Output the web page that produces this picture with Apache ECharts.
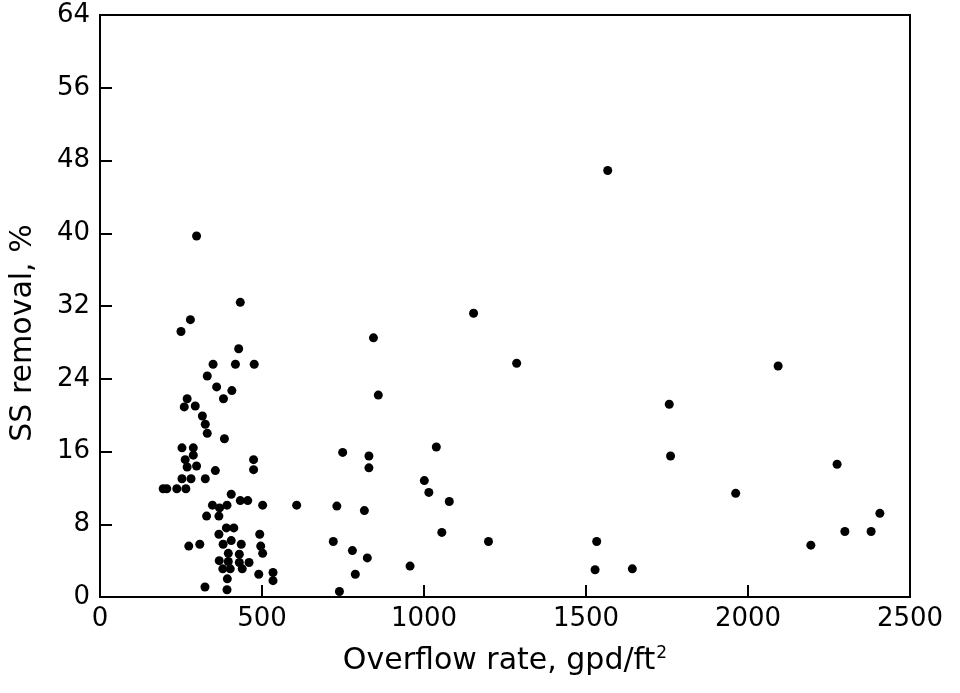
<!DOCTYPE html>
<html>
<head>
<meta charset="utf-8">
<script src="https://cdn.jsdelivr.net/npm/echarts@6/dist/echarts.min.js"></script>
<style>
html,body{margin:0;padding:0;background:#fff;}
#chart{width:960px;height:693px;}
</style>
</head>
<body>
<div id="chart"></div>
<script>
// Overflow rate (gpd/ft^2)
var overflowRate = [
  298, 433, 279, 250, 428, 349, 418, 476, 331, 360,
  407, 381, 269, 260, 294, 316, 325, 331, 384, 253,
  288, 288, 263, 269, 298, 474, 474, 356, 253, 281,
  325, 195, 206, 237, 265, 405, 433, 456, 502, 607,
  347, 369, 392, 329, 367, 390, 413, 367, 493, 274,
  308, 380, 405, 436, 496, 502, 396, 430, 368, 396,
  430, 460, 379, 402, 439, 393, 490, 534, 534, 324,
  392, 749, 830, 830, 731, 816, 720, 779, 825, 788,
  739, 844, 859, 1153, 1286, 1038, 1001, 1015, 1078, 1055,
  1199, 957, 1567, 1757, 1761, 1533, 1528, 1643, 2093, 2275,
  1962, 2407, 2299, 2380, 2194
];
// SS removal (%)
var ssRemoval = [
  39.7, 32.4, 30.5, 29.2, 27.3, 25.6, 25.6, 25.6, 24.3, 23.1,
  22.7, 21.8, 21.8, 20.9, 21.0, 19.9, 19.0, 18.0, 17.4, 16.4,
  16.4, 15.6, 15.1, 14.3, 14.4, 15.1, 14.0, 13.9, 13.0, 13.0,
  13.0, 11.9, 11.9, 11.9, 11.9, 11.3, 10.6, 10.6, 10.1, 10.1,
  10.1, 9.8, 10.1, 8.9, 8.9, 7.6, 7.6, 6.9, 6.9, 5.6,
  5.8, 5.8, 6.2, 5.8, 5.6, 4.8, 4.8, 4.7, 4.0, 3.9,
  3.8, 3.8, 3.1, 3.1, 3.1, 2.0, 2.5, 2.7, 1.8, 1.1,
  0.8, 15.9, 15.5, 14.2, 10.0, 9.5, 6.1, 5.1, 4.3, 2.5,
  0.6, 28.5, 22.2, 31.2, 25.7, 16.5, 12.8, 11.5, 10.5, 7.1,
  6.1, 3.4, 46.9, 21.2, 15.5, 6.1, 3.0, 3.1, 25.4, 14.6,
  11.4, 9.2, 7.2, 7.2, 5.7
];
var xTitle = 'Overflow rate, gpd/ft';
var xTitleSup = '2';
var yTitle = 'SS removal, %';

var points = overflowRate.map(function (x, i) { return [x, ssRemoval[i]]; });

var chart = echarts.init(document.getElementById('chart'), null, {renderer: 'canvas'});
var font = 'DejaVu Sans';
chart.setOption({
  animation: false,
  backgroundColor: '#fff',
  grid: {
    left: 100, right: 50, top: 15, bottom: 96,
    show: true, borderColor: '#000', borderWidth: 2,
    backgroundColor: 'transparent'
  },
  xAxis: {
    type: 'value',
    min: 0, max: 2500, interval: 500,
    name: xTitle + '{sup|' + xTitleSup + '}',
    nameLocation: 'middle',
    nameGap: 48,
    nameTextStyle: {
      color: '#000', fontFamily: font, fontSize: 30,
      rich: { sup: { fontSize: 17, fontFamily: font, color: '#000', verticalAlign: 'top', padding: [0, 0, 16, 1] } }
    },
    axisLine: { show: true, lineStyle: { color: '#000', width: 2 } },
    axisTick: { show: true, inside: true, length: 12, lineStyle: { color: '#000', width: 2 } },
    axisLabel: { color: '#000', fontFamily: font, fontSize: 26, margin: 9, formatter: function (v) { return String(v); } },
    splitLine: { show: false }
  },
  yAxis: {
    type: 'value',
    min: 0, max: 64, interval: 8,
    name: yTitle,
    nameLocation: 'middle',
    nameGap: 62,
    nameRotate: 90,
    nameTextStyle: { color: '#000', fontFamily: font, fontSize: 30, padding: [0, 54, 0, 0] },
    axisLine: { show: true, lineStyle: { color: '#000', width: 2 } },
    axisTick: { show: true, inside: true, length: 12, lineStyle: { color: '#000', width: 2 } },
    axisLabel: { color: '#000', fontFamily: font, fontSize: 26, margin: 10 },
    splitLine: { show: false }
  },
  series: [{
    type: 'scatter',
    data: points,
    symbol: 'circle',
    symbolSize: 9,
    itemStyle: { color: '#000', opacity: 1 },
    silent: true
  }]
});
</script>
</body>
</html>
